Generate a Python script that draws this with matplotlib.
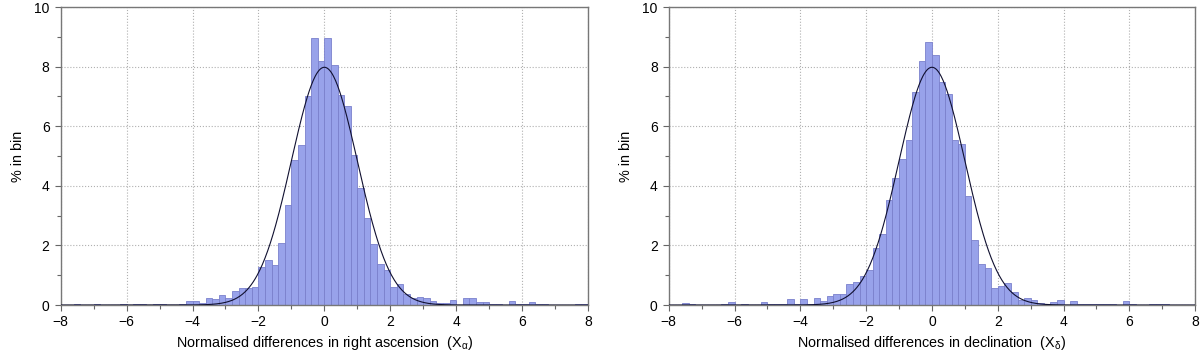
import numpy as np
import matplotlib.pyplot as plt
from matplotlib.ticker import MultipleLocator

plt.rcParams['font.family'] = ['Liberation Sans', 'DejaVu Sans']
plt.rcParams['mathtext.fontset'] = 'custom'
plt.rcParams['mathtext.rm'] = 'Liberation Sans'
plt.rcParams['mathtext.it'] = 'Liberation Sans'

# histogram bins: -8 .. 8, width 0.2
bin_width = 0.2
bin_edges = np.arange(-8.0, 8.0, bin_width)

# % in bin, right ascension
pct_ra = [0, 0, 0.05, 0, 0, 0.05, 0, 0, 0, 0.05,
          0, 0.05, 0.05, 0, 0.05, 0.05, 0, 0, 0.05, 0.15,
          0.15, 0.07, 0.22, 0.19, 0.32, 0.23, 0.46, 0.56, 0.56, 0.59,
          1.28, 1.51, 1.33, 2.07, 3.34, 4.85, 5.36, 7.0, 8.96, 8.19,
          8.96, 8.04, 7.04, 6.67, 5.02, 3.94, 2.93, 2.06, 1.36, 1.19,
          0.59, 0.69, 0.38, 0.25, 0.28, 0.23, 0.15, 0.08, 0.08, 0.18,
          0, 0.23, 0.23, 0.09, 0.09, 0.02, 0.05, 0, 0.15, 0.05,
          0.02, 0.09, 0.05, 0.05, 0, 0, 0, 0, 0.05, 0.05]

# % in bin, declination
pct_dec = [0, 0, 0.08, 0.05, 0, 0, 0, 0, 0.05, 0.09,
           0, 0.05, 0, 0, 0.09, 0.03, 0.03, 0.03, 0.19, 0.02,
           0.19, 0.03, 0.23, 0.15, 0.29, 0.37, 0.37, 0.69, 0.78, 0.96,
           1.16, 1.93, 2.39, 3.51, 4.25, 4.91, 5.53, 7.14, 8.19, 8.83,
           8.38, 7.5, 7.07, 5.53, 5.39, 3.65, 2.17, 1.36, 1.24, 0.56,
           0.65, 0.74, 0.45, 0.16, 0.23, 0.17, 0.08, 0.05, 0.09, 0.18,
           0, 0.13, 0.05, 0.05, 0.05, 0.02, 0.03, 0.05, 0, 0.13,
           0.05, 0, 0, 0.05, 0.05, 0.05, 0, 0, 0, 0]

# unit normal reference, scaled to % per bin
mu, sigma = 0.0, 1.0
xs = np.linspace(-8, 8, 801)
gauss = 100 * bin_width * np.exp(-0.5 * ((xs - mu) / sigma) ** 2) / (sigma * np.sqrt(2 * np.pi))

xlabels = [r'Normalised differences in right ascension  (X$_\alpha$)',
           r'Normalised differences in declination  (X$_\delta$)']

fig = plt.figure(figsize=(12, 3.52), dpi=100)
ax1 = fig.add_axes([0.0506, 0.1335, 0.4394, 0.8465])
ax2 = fig.add_axes([0.5573, 0.1335, 0.4387, 0.8465])

for ax, pct, xl in zip([ax1, ax2], [pct_ra, pct_dec], xlabels):
    ax.bar(bin_edges, pct, width=bin_width, align='edge',
           color='#98a2ea', edgecolor='#7a80cc', linewidth=0.6, zorder=2)
    ax.plot(xs, gauss, color='#101030', linewidth=0.8, zorder=3)
    ax.set_xlim(-8, 8)
    ax.set_ylim(0, 10)
    ax.xaxis.set_major_locator(MultipleLocator(2))
    ax.xaxis.set_minor_locator(MultipleLocator(1))
    ax.yaxis.set_major_locator(MultipleLocator(2))
    ax.yaxis.set_minor_locator(MultipleLocator(1))
    ax.tick_params(which='both', direction='out', top=False, right=False,
                   color='#666666', labelsize=10, width=0.8)
    ax.tick_params(which='major', length=4)
    ax.tick_params(which='minor', length=3)
    ax.tick_params(axis='x', which='major', pad=3)
    ax.tick_params(axis='y', which='major', pad=4)
    ax.grid(True, which='major', linestyle=':', color='#b0b0b0', linewidth=0.8, zorder=0)
    ax.set_axisbelow(True)
    for s in ax.spines.values():
        s.set_color('#777777')
        s.set_linewidth(1.0)
    ax.set_xlabel(xl, fontsize=10.4, labelpad=3.5)
    ax.set_ylabel('% in bin', fontsize=10.4, labelpad=7)

plt.savefig('out.png', dpi=100)
